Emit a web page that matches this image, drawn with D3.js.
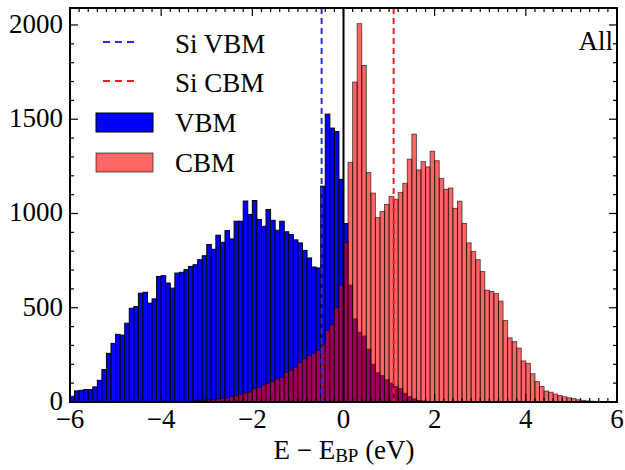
<!DOCTYPE html>
<html>
<head>
<meta charset="utf-8">
<script src="https://cdn.jsdelivr.net/npm/d3@7"></script>
<style>
  body { margin: 0; background: #fff; }
  text { font-family: "Liberation Serif", "DejaVu Serif", serif; }
</style>
</head>
<body>
<div id="chart"></div>
<script>
// histogram bins are 0.1 eV wide; the first count of each list belongs to its start edge
var binWidth = 0.1;
var vbmStart = -6.0;
var vbmCounts = [30, 59, 62, 66, 66, 80, 115, 172, 258, 311,
    359, 355, 418, 497, 506, 577, 582, 524, 547, 666,
    670, 631, 604, 684, 688, 702, 719, 728, 755, 776,
    835, 810, 885, 847, 909, 865, 959, 959, 1066, 995,
    1069, 968, 932, 1021, 964, 911, 959, 903, 888, 860,
    844, 804, 764, 716, 711, 1145, 1527, 1453, 1435, 1181,
    947, 620, 440, 370, 350, 280, 200, 155, 140, 118,
    100, 82, 70, 46, 28, 16, 8, 5, 3, 2];
var cbmStart = -3.6;
var cbmCounts = [2, 3, 4, 5, 7, 9, 11, 13, 16, 18,
    22, 27, 32, 40, 48, 52, 70, 78, 90, 100,
    110, 122, 130, 158, 168, 185, 210, 230, 245, 258,
    275, 300, 380, 410, 500, 620, 845, 1271, 1697, 2007,
    1785, 1217, 1108, 978, 1010, 1048, 1091, 1075, 1112, 1160,
    1288, 1421, 1231, 1275, 1247, 1330, 1280, 1186, 1128, 1135,
    1027, 1065, 947, 844, 799, 755, 692, 593, 586, 575,
    535, 432, 340, 320, 286, 218, 205, 150, 108, 82,
    58, 52, 42, 34, 28, 22, 18, 12, 9, 6,
    4, 2];
var siVBM = -0.48;
var siCBM = 1.10;
var xTicks = [-6, -4, -2, 0, 2, 4, 6];
var yTicks = [0, 500, 1000, 1500, 2000];
var legendNames = ["Si VBM", "Si CBM", "VBM", "CBM"];
var panelLabel = "All";

var width = 625, height = 470;
var pLeft = 70, pRight = 617, pTop = 8, pBottom = 402;

var svg = d3.select("#chart").append("svg")
    .attr("width", width)
    .attr("height", height);

var x = d3.scaleLinear().domain([-6, 6]).range([pLeft, pRight]);
var y = d3.scaleLinear().domain([0, 2090]).range([pBottom, pTop]);

svg.append("clipPath").attr("id", "plot-clip")
    .append("rect")
    .attr("x", pLeft).attr("y", pTop)
    .attr("width", pRight - pLeft).attr("height", pBottom - pTop);

function toBins(start, counts) {
    return counts.map(function(c, i) {
        var x0 = Math.round((start + i * binWidth) * 10) / 10;
        return {x0: x0, x1: x0 + binWidth, count: c};
    });
}

var plot = svg.append("g").attr("clip-path", "url(#plot-clip)");

plot.selectAll(".vbm")
    .data(toBins(vbmStart, vbmCounts))
    .enter().append("rect")
    .attr("class", "vbm")
    .attr("x", function(d) { return x(d.x0); })
    .attr("width", function(d) { return x(d.x1) - x(d.x0); })
    .attr("y", function(d) { return y(d.count); })
    .attr("height", function(d) { return y(0) - y(d.count); })
    .style("fill", "#0000ff")
    .style("stroke", "#000")
    .style("stroke-width", 1);

plot.selectAll(".cbm")
    .data(toBins(cbmStart, cbmCounts))
    .enter().append("rect")
    .attr("class", "cbm")
    .attr("x", function(d) { return x(d.x0); })
    .attr("width", function(d) { return x(d.x1) - x(d.x0); })
    .attr("y", function(d) { return y(d.count); })
    .attr("height", function(d) { return y(0) - y(d.count); })
    .style("fill", "#ff0000")
    .style("fill-opacity", 0.6)
    .style("stroke", "#000")
    .style("stroke-opacity", 0.6)
    .style("stroke-width", 1);

// reference lines
plot.append("line")
    .attr("x1", x(0)).attr("x2", x(0))
    .attr("y1", pTop).attr("y2", pBottom)
    .style("stroke", "#000").style("stroke-width", 2);

plot.append("line")
    .attr("x1", x(siVBM)).attr("x2", x(siVBM))
    .attr("y1", pTop).attr("y2", pBottom)
    .style("stroke", "#2a2aff").style("stroke-width", 2)
    .style("stroke-dasharray", "6,4");

plot.append("line")
    .attr("x1", x(siCBM)).attr("x2", x(siCBM))
    .attr("y1", pTop).attr("y2", pBottom)
    .style("stroke", "#ff1a1a").style("stroke-width", 2)
    .style("stroke-dasharray", "6,4");

// frame + inward ticks
var frame = svg.append("g");
frame.append("rect")
    .attr("x", pLeft).attr("y", pTop)
    .attr("width", pRight - pLeft).attr("height", pBottom - pTop)
    .style("fill", "none").style("stroke", "#000").style("stroke-width", 2);

var xMinor = d3.range(-60, 61, 2).map(function(v) { return v / 10; });
var yMinor = d3.range(0, 2001, 100);

frame.selectAll(".xt")
    .data(xMinor)
    .enter().append("g")
    .each(function(d) {
        var len = xTicks.indexOf(d) >= 0 ? 8 : 4;
        var g = d3.select(this);
        g.append("line").attr("x1", x(d)).attr("x2", x(d))
            .attr("y1", pBottom).attr("y2", pBottom - len);
        g.append("line").attr("x1", x(d)).attr("x2", x(d))
            .attr("y1", pTop).attr("y2", pTop + len);
    })
    .selectAll("line").style("stroke", "#000").style("stroke-width", 1.2);

frame.selectAll(".yt")
    .data(yMinor)
    .enter().append("g")
    .each(function(d) {
        var len = yTicks.indexOf(d) >= 0 ? 8 : 4;
        var g = d3.select(this);
        g.append("line").attr("x1", pLeft).attr("x2", pLeft + len)
            .attr("y1", y(d)).attr("y2", y(d));
        g.append("line").attr("x1", pRight).attr("x2", pRight - len)
            .attr("y1", y(d)).attr("y2", y(d));
    })
    .selectAll("line").style("stroke", "#000").style("stroke-width", 1.2);

frame.selectAll(".xl")
    .data(xTicks)
    .enter().append("text")
    .attr("x", function(d) { return x(d); })
    .attr("y", 428)
    .attr("text-anchor", "middle")
    .style("font-size", "27px")
    .text(function(d) { return d < 0 ? "\u2212" + Math.abs(d) : d; });

frame.selectAll(".yl")
    .data(yTicks)
    .enter().append("text")
    .attr("x", pLeft - 7)
    .attr("y", function(d) { return y(d) + 8; })
    .attr("text-anchor", "end")
    .style("font-size", "27px")
    .text(function(d) { return d; });

// axis title
var title = svg.append("text")
    .attr("x", 344).attr("y", 459)
    .attr("text-anchor", "middle")
    .style("font-size", "27px");
title.append("tspan").text("E \u2212 E");
title.append("tspan").attr("dy", 3).style("font-size", "19px").text("BP");
title.append("tspan").attr("dy", -3).text(" (eV)");

svg.append("text")
    .attr("x", 613).attr("y", 50)
    .attr("text-anchor", "end")
    .style("font-size", "27px")
    .text(panelLabel);

// legend
var legend = svg.append("g");
legend.append("line")
    .attr("x1", 103).attr("x2", 139).attr("y1", 42).attr("y2", 42)
    .style("stroke", "#2a2aff").style("stroke-width", 2).style("stroke-dasharray", "7,5");
legend.append("line")
    .attr("x1", 103).attr("x2", 139).attr("y1", 81).attr("y2", 81)
    .style("stroke", "#ff1a1a").style("stroke-width", 2).style("stroke-dasharray", "7,5");
legend.append("rect")
    .attr("x", 96).attr("y", 113).attr("width", 57).attr("height", 19)
    .style("fill", "#0000ff").style("stroke", "#000").style("stroke-width", 1);
legend.append("rect")
    .attr("x", 96).attr("y", 153).attr("width", 57).attr("height", 19)
    .style("fill", "#ff0000").style("fill-opacity", 0.6)
    .style("stroke", "#000").style("stroke-opacity", 0.6).style("stroke-width", 1);

legend.selectAll(".lt")
    .data(legendNames)
    .enter().append("text")
    .attr("x", 175)
    .attr("y", function(d, i) { return [53, 92, 132, 172][i]; })
    .style("font-size", "27px")
    .text(function(d) { return d; });
</script>
</body>
</html>
